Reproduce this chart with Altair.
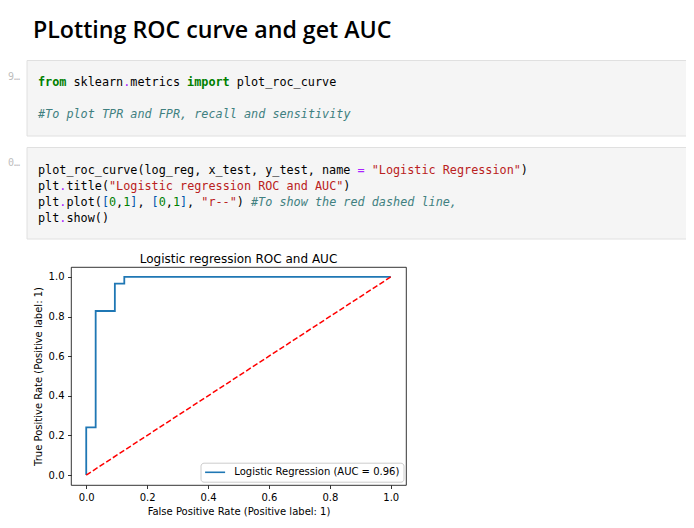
import altair as alt
import pandas as pd

# ---------------- data ----------------
fpr = [0.0, 0.0, 0.031, 0.031, 0.094, 0.094, 0.125, 0.125, 1.0]
tpr = [0.0, 0.241, 0.241, 0.828, 0.828, 0.966, 0.966, 1.0, 1.0]
diag_x = [0.0, 1.0]
diag_y = [0.0, 1.0]
series_name = "Logistic Regression (AUC = 0.96)"
tick_values = [0.0, 0.2, 0.4, 0.6, 0.8, 1.0]

heading = "PLotting ROC curve and get AUC"
chart_title = "Logistic regression ROC and AUC"
x_title = "False Positive Rate (Positive label: 1)"
y_title = "True Positive Rate (Positive label: 1)"
prompts = ["9\u2026", "0\u2026"]

cell1_lines = [
    [("from", "kw"), (" sklearn", "n"), (".", "op"), ("metrics ", "n"),
     ("import", "kw"), (" plot_roc_curve", "n")],
    [],
    [("#To plot TPR and FPR, recall and sensitivity", "cm")],
]
cell2_lines = [
    [("plot_roc_curve", "n"), ("(", "p"), ("log_reg", "n"), (",", "p"),
     (" x_test", "n"), (",", "p"), (" y_test", "n"), (",", "p"),
     (" name ", "n"), ("=", "op"), (" \"Logistic Regression\"", "str"), (")", "p")],
    [("plt", "n"), (".", "op"), ("title", "n"), ("(", "p"),
     ("\"Logistic regression ROC and AUC\"", "str"), (")", "p")],
    [("plt", "n"), (".", "op"), ("plot", "n"), ("(", "p"), ("[", "br"), ("0", "num"),
     (",", "p"), ("1", "num"), ("]", "br"), (",", "p"), (" [", "br"), ("0", "num"),
     (",", "p"), ("1", "num"), ("]", "br"), (",", "p"), (" \"r--\"", "str"), (")", "p"),
     (" #To show the red dashed line,", "cm")],
    [("plt", "n"), (".", "op"), ("show", "n"), ("()", "p")],
]

# ---------------- styles / layout ----------------
token_style = {  # class: (color, weight, style)
    "n": ("#000000", "normal", "normal"),
    "p": ("#000000", "normal", "normal"),
    "op": ("#aa22ff", "normal", "normal"),
    "str": ("#ba2121", "normal", "normal"),
    "num": ("#008000", "normal", "normal"),
    "br": ("#0055aa", "normal", "normal"),
    "kw": ("#008000", "bold", "normal"),
    "cm": ("#408080", "normal", "italic"),
}
W, H = 335, 218
PAD_L, PAD_T, TOTAL_W, TOTAL_H = 63, 259, 678, 510
CW, LH = 7.1, 16.2
CODE_FONT = "DejaVu Sans Mono"
CODE_SIZE = 11.8
MPL_FONT = "DejaVu Sans"


def tokens_df(lines, x0, y0):
    rows = []
    for i, line in enumerate(lines):
        col = 0
        for txt, cls in line:
            s = txt.lstrip()
            lead = len(txt) - len(s)
            if s.strip():
                rows.append({"line": i, "col": col + lead, "text": s.rstrip(), "cls": cls,
                             "px": x0 + (col + lead) * CW, "py": y0 + i * LH})
            col += len(txt)
    return pd.DataFrame(rows)


def code_layers(df):
    layers = []
    for cls, (color, weight, style) in token_style.items():
        sub = df[df["cls"] == cls]
        if len(sub) == 0:
            continue
        layers.append(
            alt.Chart(sub).mark_text(align="left", baseline="alphabetic", font=CODE_FONT,
                                     fontSize=CODE_SIZE, fontWeight=weight, fontStyle=style,
                                     color=color)
            .encode(x=alt.X("px:Q", scale=None), y=alt.Y("py:Q", scale=None), text="text:N")
        )
    return layers


def cell_rect(top, bottom):
    return alt.Chart(pd.DataFrame({"cell": [0]})).mark_rect(
        fill="#f5f5f5", stroke="#e0e0e0", strokeWidth=1
    ).encode(x=alt.value(-44), x2=alt.value(TOTAL_W - PAD_L + 2),
             y=alt.value(top), y2=alt.value(bottom))


def plain_text(txt, x, y, font, size, color, weight="normal", align="left"):
    return alt.Chart(pd.DataFrame({"t": [txt]})).mark_text(
        align=align, baseline="alphabetic", font=font, fontSize=size,
        fontWeight=weight, color=color
    ).encode(x=alt.value(x), y=alt.value(y), text="t:N")


# ---------------- ROC chart ----------------
roc_df = pd.DataFrame({"fpr": fpr, "tpr": tpr, "i": list(range(len(fpr))),
                       "series": [series_name] * len(fpr)})
diag_df = pd.DataFrame({"fx": diag_x, "fy": diag_y})

xscale = alt.Scale(domain=[-0.05, 1.05], nice=False, zero=False)
yscale = alt.Scale(domain=[-0.05, 1.05], nice=False, zero=False)
axis_common = dict(values=tick_values, format=".1f", grid=False, domain=False,
                   tickColor="black", tickSize=3.5, tickWidth=0.8,
                   labelFont=MPL_FONT, labelFontSize=10, labelColor="black",
                   labelPadding=3.5, labelFlush=False, labelOverlap=False,
                   titleFont=MPL_FONT, titleFontSize=10, titleFontWeight="normal",
                   titleColor="black")

roc = alt.Chart(roc_df).mark_line(strokeWidth=1.8).encode(
    x=alt.X("fpr:Q", scale=xscale, axis=alt.Axis(title=x_title, titlePadding=4, **axis_common)),
    y=alt.Y("tpr:Q", scale=yscale, axis=alt.Axis(title=y_title, titlePadding=5, **axis_common)),
    order="i:Q",
    color=alt.Color("series:N", scale=alt.Scale(domain=[series_name], range=["#1f77b4"]),
                    legend=alt.Legend(title=None, orient="none", legendX=129.5, legendY=195.7,
                                      symbolType="M-1,0H3", symbolSize=100,
                                      symbolStrokeWidth=1.6,
                                      labelFont=MPL_FONT, labelFontSize=10, labelColor="black",
                                      labelOffset=18.2, labelLimit=0, strokeColor="#cccccc",
                                      cornerRadius=3, fillColor="rgba(255,255,255,0.8)",
                                      padding=3.6)),
)

diag = alt.Chart(diag_df).mark_line(color="#ff0000", strokeWidth=1.5,
                                    strokeDash=[5.55, 2.4]).encode(
    x=alt.X("fx:Q", scale=xscale), y=alt.Y("fy:Q", scale=yscale))

# ---------------- notebook decorations ----------------
ox, oy = 71, 267  # plot origin in page pixels
layers = [
    cell_rect(60.5 - oy, 136 - oy),
    cell_rect(147.5 - oy, 239 - oy),
    plain_text(heading, 33 - ox, 38.3 - oy, "Open Sans", 23.2, "#000000", weight=600),
    plain_text(prompts[0], 8 - ox, 80 - oy, CODE_FONT, 10, "#bdbdbd"),
    plain_text(prompts[1], 8 - ox, 166 - oy, CODE_FONT, 10, "#bdbdbd"),
    plain_text(chart_title, W / 2, 263.3 - oy, MPL_FONT, 12, "#000000", align="center"),
]
layers += code_layers(tokens_df(cell1_lines, 38 - ox, 86 - oy))
layers += code_layers(tokens_df(cell2_lines, 38 - ox, 173.5 - oy))
layers += [roc, diag]

chart = alt.layer(*layers).properties(
    width=W, height=H,
    background="white",
    autosize=alt.AutoSizeParams(type="none"),
    padding={"left": PAD_L, "top": PAD_T, "right": TOTAL_W - PAD_L - W,
             "bottom": TOTAL_H - PAD_T - H},
).configure_view(stroke="black", strokeWidth=0.8)

chart.save("out.html", embed_options={"renderer": "svg", "actions": False})
